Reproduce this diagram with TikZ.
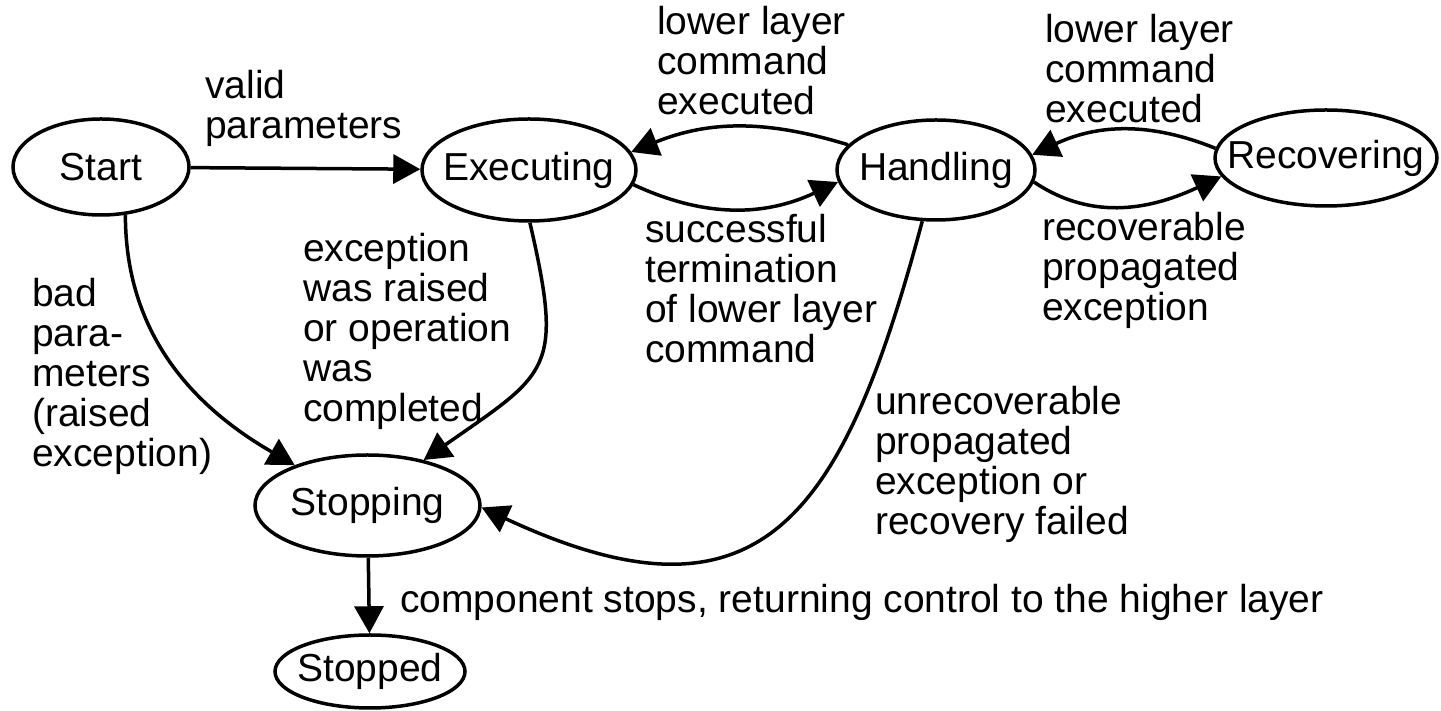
\documentclass[tikz,border=0pt]{standalone}
\usepackage{fontspec}
\setmainfont{Liberation Sans}
\usetikzlibrary{arrows.meta,shapes.geometric}
\begin{document}
\begin{tikzpicture}[x=1pt,y=1pt,
  font=\fontsize{39}{40}\selectfont,
  % negative inner sep lets the minimum size alone fix each ellipse
  state/.style={ellipse, draw, line width=3.5pt, inner xsep=-110pt, inner ysep=-40pt},
  edge/.style={line width=3.5pt, -{Triangle[length=27pt,width=29pt]}},
  lbl/.style={align=left, anchor=base west, inner sep=0pt}]
\useasboundingbox (0,0) rectangle (1441,711);

% states
\node[state, minimum width=176pt, minimum height=96pt]  (start)    at (101,544)    {Start};
\node[state, minimum width=214pt, minimum height=102pt] (exe)      at (529,541)    {Executing};
\node[state, minimum width=198pt, minimum height=100pt] (han)      at (936,541)    {Handling};
\node[state, minimum width=222pt, minimum height=96pt]  (rec)      at (1326,553)   {Recovering};
\node[state, minimum width=225pt, minimum height=101pt] (stopping) at (367.5,205.5) {Stopping};
\node[state, minimum width=190pt, minimum height=73pt]  (stopped)  at (370,39.5)   {Stopped};

% transitions
\draw[edge] (start) -- (exe);
\draw[edge] (han.164) to[out=163,in=22] (exe.10);
\draw[edge] (exe.-8) to[out=-25,in=205] (han.187);
\draw[edge] (rec.175) to[out=158,in=25] (han.9);
\draw[edge] (han.-7) to[out=-34,in=205] (rec.190);
\draw[edge] (start.-63) to[out=-90,in=150] (stopping.151);
\draw[edge] (exe.-89) to[out=-77,in=35,looseness=1.5] (stopping.39);
\draw[edge] (han.-105) to[out=-105,in=-25,looseness=1.5] (stopping.-1);
\draw[edge] (stopping) -- (stopped);

% transition labels (anchored at the baseline of the last line)
\node[lbl] (lvalid)  at (205,572)  {valid\\parameters};
\node[lbl] (lexec1)  at (657,596)  {lower layer\\command\\executed};
\node[lbl] (lexec2)  at (1045,588) {lower layer\\command\\executed};
\node[lbl] (ldone)   at (303,289)  {exception\\was raised\\or operation\\was\\completed};
\node[lbl] (lbad)    at (32,244)   {bad\\para-\\meters\\(raised\\exception)};
\node[lbl] (lsucc)   at (645,348)  {successful\\termination\\of lower layer\\command};
\node[lbl] (lrecov)  at (1042,390) {recoverable\\propagated\\exception};
\node[lbl] (lunrec)  at (875,176)  {unrecoverable\\propagated\\exception or\\recovery failed};
\node[lbl] (lstop)   at (400,98)   {component stops, returning control to the higher layer};
\end{tikzpicture}
\end{document}
